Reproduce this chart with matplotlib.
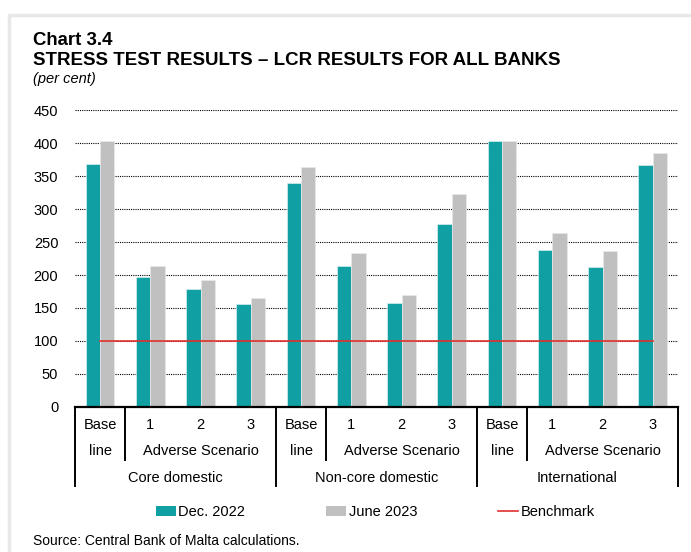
import numpy as np
import matplotlib.pyplot as plt
from matplotlib.lines import Line2D
from matplotlib.patches import Patch

plt.rcParams['font.family'] = ['Liberation Sans', 'DejaVu Sans']

TEAL = '#109fa3'
GREY = '#c0c0c0'
RED = '#e0302c'

# one entry per bar pair: baseline + adverse 1-3 for each bank group
scenario_labels = ['Base', '1', '2', '3'] * 3
groups = ['Core domestic', 'Non-core domestic', 'International']
dec_2022 = [368, 197, 179, 156, 339, 213, 157, 277, 403, 238, 212, 366]
june_2023 = [403, 213, 193, 165, 363, 233, 169, 323, 403, 263, 236, 385]
benchmark = [100] * 12

fig = plt.figure(figsize=(6.91, 5.52), dpi=100)
ax = fig.add_axes([0.1085, 0.2627, 0.8725, 0.538])

x = np.arange(len(dec_2022))
w = 0.285
ax.bar(x - w / 2, dec_2022, w, color=TEAL, edgecolor='#d8eeee', linewidth=0.5, zorder=2)
ax.bar(x + w / 2, june_2023, w, color=GREY, edgecolor='#e8e8e8', linewidth=0.5, zorder=2)
ax.plot(x, benchmark, color=RED, lw=1.2, zorder=3)

ax.set_xlim(-0.5, 11.5)
ax.set_ylim(0, 450)
ax.set_yticks(np.arange(0, 451, 50))
ax.yaxis.grid(True, color='black', linestyle=(0, (1.0, 1.0)), linewidth=0.8, zorder=0)
ax.set_axisbelow(True)
ax.tick_params(axis='y', length=0, pad=12, labelsize=10.5)
ax.set_xticks([])
for s in ['left', 'right', 'top']:
    ax.spines[s].set_visible(False)
ax.spines['bottom'].set_linewidth(1.6)

# category table under the axis
tr = ax.get_xaxis_transform()
for xp in [-0.5, 3.5, 7.5, 11.5]:
    ax.plot([xp, xp], [0, -0.266], color='black', lw=1.4, transform=tr, clip_on=False)
for xp in [0.5, 4.5, 8.5]:
    ax.plot([xp, xp], [0, -0.178], color='black', lw=1.4, transform=tr, clip_on=False)

for i, lab in enumerate(scenario_labels):
    ax.text(i, -0.061, lab, transform=tr, ha='center', va='center', fontsize=10.5)
for g, name in enumerate(groups):
    ax.text(4 * g, -0.148, 'line', transform=tr, ha='center', va='center', fontsize=10.5)
    ax.text(4 * g + 2, -0.148, 'Adverse Scenario', transform=tr, ha='center', va='center', fontsize=10.5)
    ax.text(4 * g + 1.5, -0.239, name, transform=tr, ha='center', va='center', fontsize=10.5)

handles = [Patch(facecolor=TEAL, edgecolor='none'),
           Patch(facecolor=GREY, edgecolor='none'),
           Line2D([], [], color=RED, lw=1.2)]
fig.legend(handles, ['Dec. 2022', 'June 2023', 'Benchmark'], loc='center',
           bbox_to_anchor=(0.543, 0.0725), ncol=3, frameon=False, fontsize=10.5,
           handlelength=1.4, handleheight=0.7, handletextpad=0.15, columnspacing=5.55)

fig.text(0.0478, 0.9275, 'Chart 3.4', fontsize=13.4, fontweight='bold', va='center')
fig.text(0.0478, 0.8895, 'STRESS TEST RESULTS \u2013 LCR RESULTS FOR ALL BANKS',
         fontsize=13.5, fontweight='bold', va='center')
fig.text(0.0478, 0.857, '(per cent)', fontsize=10.5, style='italic', va='center')
fig.text(0.0478, 0.02, 'Source: Central Bank of Malta calculations.', fontsize=10, va='center')

# light panel border
fig.add_artist(Line2D([0.0135, 0.0135, 1.0], [0.0, 0.9728, 0.9728],
                      transform=fig.transFigure, color='#e8e8e8', lw=2.5))

fig.savefig('out.png', dpi=100)
